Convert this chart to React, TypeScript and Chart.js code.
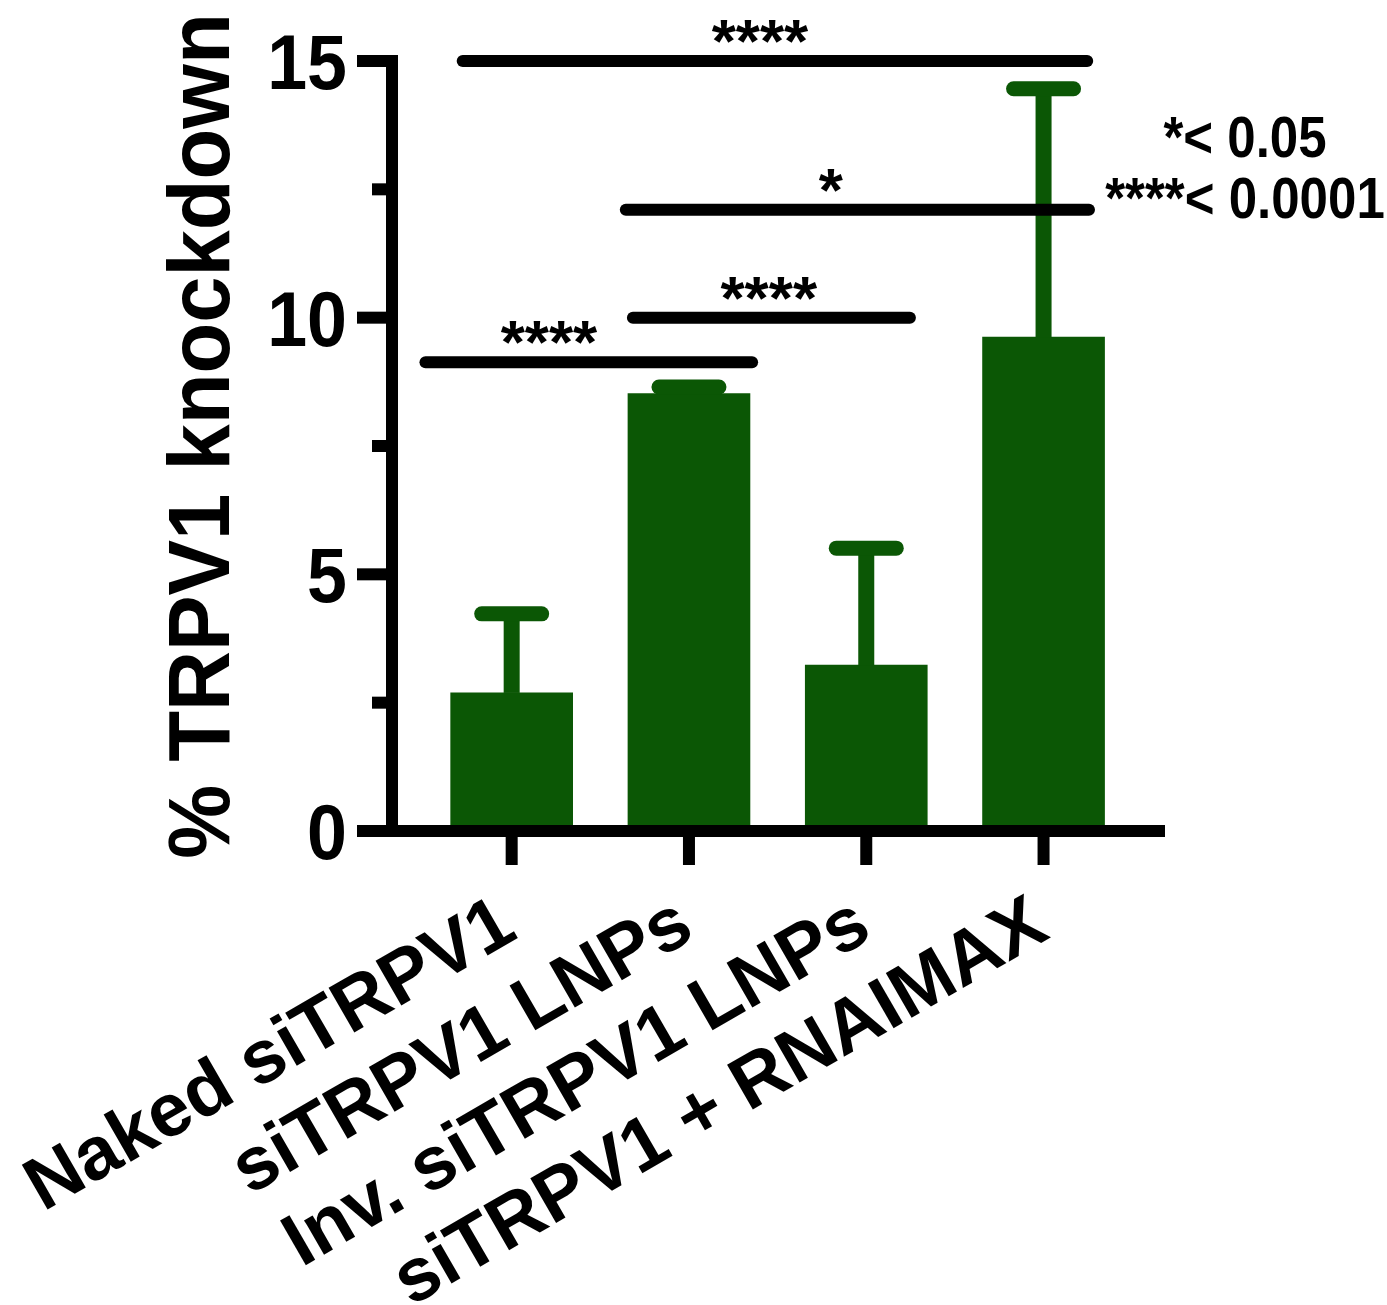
import React, { useEffect, useRef } from 'react';
import { Chart, registerables } from 'chart.js';

Chart.register(...registerables);

// ---- data ----
const categories = ['Naked siTRPV1', 'siTRPV1 LNPs', 'Inv. siTRPV1 LNPs', 'siTRPV1 + RNAIMAX'];
const means = [2.69, 8.52, 3.23, 9.62];
const errors = [1.54, 0.13, 2.28, 4.84];
const yMajorTicks = [0, 5, 10, 15];
const yMinorTicks = [2.5, 7.5, 12.5];
const yTitle = '% TRPV1 knockdown';
// significance brackets (x in category units, y in data units)
const sigStart = [-0.31, 0.61, 0.65, -0.52];
const sigEnd = [3.28, 3.29, 2.28, 1.39];
const sigLevel = [15.0, 12.1, 10.0, 9.13];
const sigLabel = ['****', '*', '****', '****'];
const sigLabelX = [1.4, 1.8, 1.45, 0.21];
const legendLines = ['*< 0.05', '****< 0.0001'];

const GREEN = '#0b5705';
const FONT = "'Liberation Sans', Arial, Helvetica, sans-serif";

function drawText(
  ctx: CanvasRenderingContext2D,
  text: string,
  x: number,
  y: number,
  size: number,
  align: CanvasTextAlign,
  angle: number,
  sx: number
) {
  ctx.save();
  ctx.translate(x, y);
  ctx.rotate(angle);
  ctx.scale(sx, 1);
  ctx.font = `bold ${size}px ${FONT}`;
  ctx.textAlign = align;
  ctx.textBaseline = 'alphabetic';
  ctx.fillStyle = '#000';
  ctx.fillText(text, 0, 0);
  ctx.restore();
}

const decorPlugin = {
  id: 'decor',
  afterDatasetsDraw(chart: any) {
    const ctx: CanvasRenderingContext2D = chart.ctx;
    const xs = chart.scales.x;
    const ys = chart.scales.y;
    const { left, right, top, bottom } = chart.chartArea;
    const axisW = 12;
    const half = axisW / 2;

    ctx.save();
    // error bars (upper only)
    ctx.fillStyle = GREEN;
    ctx.strokeStyle = GREEN;
    means.forEach((m, i) => {
      const px = xs.getPixelForValue(i);
      const yTop = ys.getPixelForValue(m);
      const yErr = ys.getPixelForValue(m + errors[i]);
      ctx.fillRect(px - 8, yErr, 16, yTop - yErr);
      ctx.lineWidth = 15;
      ctx.lineCap = 'round';
      ctx.beginPath();
      ctx.moveTo(px - 30, yErr);
      ctx.lineTo(px + 30, yErr);
      ctx.stroke();
    });

    // axes
    ctx.fillStyle = '#000';
    ctx.fillRect(left - half, top - half, axisW, bottom - top + axisW);
    ctx.fillRect(left - 35, bottom - half, right - left + 35, axisW);
    // y major ticks + labels
    yMajorTicks.forEach((v) => {
      const py = ys.getPixelForValue(v);
      ctx.fillStyle = '#000';
      ctx.fillRect(left - 35, py - half, 35, axisW);
      drawText(ctx, String(v), left - 45, py + 28, 78, 'right', 0, 0.92);
    });
    yMinorTicks.forEach((v) => {
      const py = ys.getPixelForValue(v);
      ctx.fillStyle = '#000';
      ctx.fillRect(left - 20, py - half, 20, axisW);
    });
    // x ticks + labels
    categories.forEach((c, i) => {
      const px = xs.getPixelForValue(i);
      ctx.fillStyle = '#000';
      ctx.fillRect(px - half, bottom, axisW, 34);
      drawText(ctx, c, px + 8, bottom + 106, 75, 'right', -Math.PI / 6, 1);
    });
    // y title
    drawText(ctx, yTitle, left - 163, (top + bottom) / 2 - 10, 88, 'center', -Math.PI / 2, 0.945);

    // significance lines
    ctx.strokeStyle = '#000';
    ctx.lineWidth = 12;
    ctx.lineCap = 'round';
    sigLevel.forEach((lv, i) => {
      const py = ys.getPixelForValue(lv);
      const x1 = xs.getPixelForValue(sigStart[i]);
      const x2 = xs.getPixelForValue(sigEnd[i]);
      ctx.beginPath();
      ctx.moveTo(x1 + 6, py);
      ctx.lineTo(x2 - 6, py);
      ctx.stroke();
      ctx.font = `bold 62px ${FONT}`;
      const m = ctx.measureText(sigLabel[i]);
      const baseY = py - 18 - m.actualBoundingBoxDescent;
      drawText(ctx, sigLabel[i], xs.getPixelForValue(sigLabelX[i]), baseY, 62, 'center', 0, 1);
    });

    // p-value legend
    legendLines.forEach((t, i) => {
      drawText(ctx, t, right + 80, top + 96 + i * 61, 58, 'center', 0, 0.88);
    });
    ctx.restore();
  },
};

export default function App() {
  const ref = useRef<HTMLCanvasElement | null>(null);

  useEffect(() => {
    document.body.style.margin = '0';
    const canvas = ref.current;
    if (!canvas) return;
    const chart = new Chart(canvas, {
      type: 'bar',
      data: {
        datasets: [
          {
            data: means.map((y, i) => ({ x: i, y })),
            backgroundColor: GREEN,
            borderWidth: 0,
            barThickness: 122,
          },
        ],
      },
      options: {
        responsive: false,
        maintainAspectRatio: false,
        devicePixelRatio: 1,
        animation: false,
        layout: { padding: { left: 392, right: 222, top: 61, bottom: 474 } },
        scales: {
          x: { type: 'linear', min: -0.675, max: 3.685, offset: false, display: false },
          y: { type: 'linear', min: 0, max: 15, display: false },
        },
        plugins: {
          legend: { display: false },
          tooltip: { enabled: false },
        },
      },
      plugins: [decorPlugin],
    } as any);
    return () => chart.destroy();
  }, []);

  return (
    <div style={{ position: 'absolute', left: 0, top: 0, width: 1387, height: 1305, background: '#fff' }}>
      <canvas ref={ref} width={1387} height={1305} style={{ display: 'block', width: 1387, height: 1305 }} />
    </div>
  );
}
